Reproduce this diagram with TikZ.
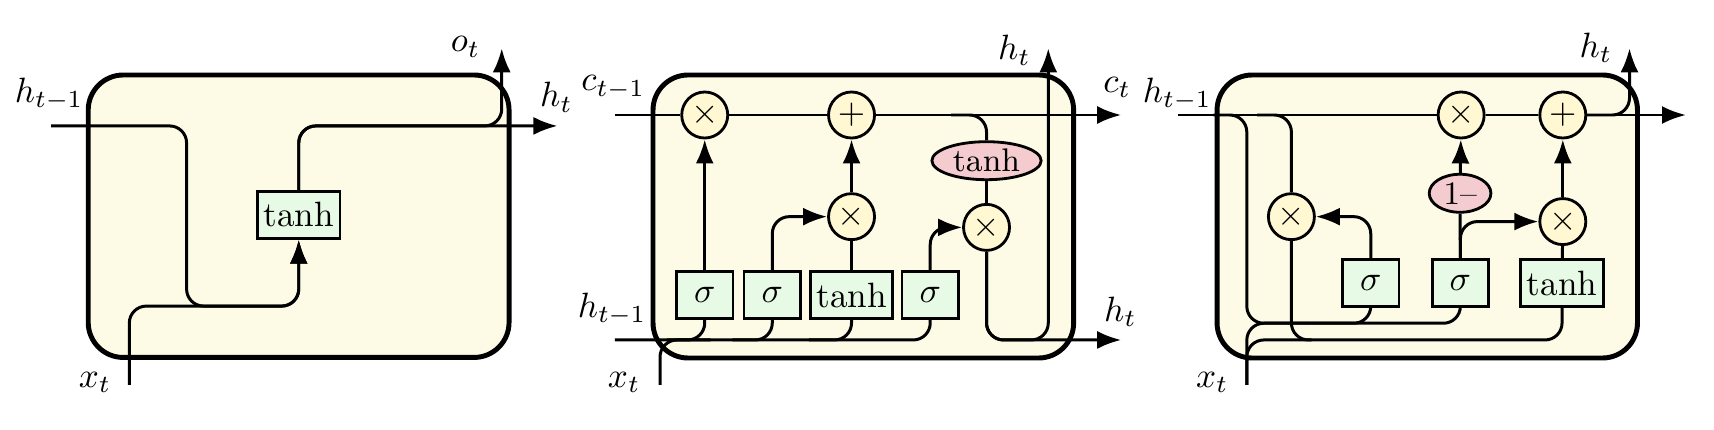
\documentclass[tikz,border=0pt]{standalone}
\usetikzlibrary{arrows.meta,shapes.geometric}
\definecolor{cellfill}{HTML}{FDFBE6}
\definecolor{opfill}{HTML}{FFF8D2}
\definecolor{gatefill}{HTML}{E6FAE6}
\definecolor{actfill}{HTML}{F4CCD0}
\begin{document}
\begin{tikzpicture}[x=0.010931cm,y=-0.010931cm,
  cell/.style={line width=1.4pt, rounded corners=3.5mm, fill=cellfill},
  wire/.style={line width=0.85pt, rounded corners=1.7mm},
  arr/.style={-{Latex[length=2.4mm,width=1.8mm]}},
  gate/.style={draw, line width=0.8pt, fill=gatefill, minimum width=5.65mm, minimum height=4.67mm, inner xsep=0.6mm, inner ysep=0pt},
  op/.style={circle, draw, line width=0.8pt, fill=opfill, minimum size=4.6mm, inner sep=0pt},
  act/.style={ellipse, draw, line width=0.8pt, fill=actfill, minimum height=3.8mm, inner xsep=0.5mm, inner ysep=0pt, font=\fontsize{9.3}{11}\selectfont},
  lbl/.style={inner sep=0pt}]
\useasboundingbox (0,0) rectangle (1568,393);

% ---------------- Panel 1 : simple RNN ----------------
\draw[cell] (80.7,68.6) rectangle (465.7,327);
\node[gate] (tanhA) at (273.3,196.6) {tanh};
\coordinate (hinA) at (46.7,115.2);
\coordinate (xinA) at (118.3,352);
\coordinate (houtA) at (510,115.2);
\coordinate (otA) at (459,44.2);
\draw[wire,arr] (hinA) -| (170.7,280) -| (tanhA);
\draw[wire,arr] (xinA) -- (118.3,280) -| (tanhA);
\draw[wire,arr] (tanhA) |- (houtA);
\draw[wire,arr] (tanhA) |- (459,115.2) -- (otA);
\node[lbl] (lhA) at (45,86) {$h_{t-1}$};
\node[lbl] (lxA) at (87,350) {$x_t$};
\node[lbl] (loA) at (426,43) {$o_t$};
\node[lbl] (lhoA) at (509,89) {$h_t$};

% ---------------- Panel 2 : LSTM ----------------
\draw[cell] (597.4,68.6) rectangle (982.2,327.5);
\node[op] (mB1) at (644.7,105.2) {$\times$};
\node[op] (aB) at (779,105.2) {$+$};
\node[op] (mB2) at (779,198.2) {$\times$};
\node[op] (mB3) at (902.5,208) {$\times$};
\node[act] (eB) at (902.5,147) {tanh};
\node[gate] (sB1) at (644.7,270) {$\sigma$};
\node[gate] (sB2) at (706.5,270) {$\sigma$};
\node[gate] (tB) at (779,270) {tanh};
\node[gate] (sB3) at (851,270) {$\sigma$};
\coordinate (cinB) at (562.4,105.2);
\coordinate (coutB) at (1025.7,105.2);
\coordinate (hinB) at (562.4,311);
\coordinate (xinB) at (603.8,352);
\coordinate (houtB) at (1025.7,311);
\coordinate (hupB) at (959,44.2);
\draw[wire,arr] (cinB) -- (mB1) -- (aB) -- (coutB);
\draw[wire] (eB) |- (870,105.2);
\draw[wire] (eB) -- (mB3);
\draw[wire,arr] (mB3) |- (houtB);
\draw[wire,arr] (mB3) |- (959,311) -- (hupB);
\draw[wire] (hinB) -| (sB3);
\draw[wire] (sB1) |- (610,311);
\draw[wire] (sB2) |- (670,311);
\draw[wire] (tB) |- (740,311);
\draw[wire] (xinB) |- (650,311);
\draw[wire,arr] (sB1) -- (mB1);
\draw[wire,arr] (sB2) |- (mB2);
\draw[wire] (tB) -- (mB2);
\draw[wire,arr] (mB2) -- (aB);
\draw[wire,arr] (sB3) |- (mB3);
\node[lbl] (lcB) at (561,80) {$c_{t-1}$};
\node[lbl] (lhB) at (560,283) {$h_{t-1}$};
\node[lbl] (lxB) at (571,350) {$x_t$};
\node[lbl] (lhtB) at (928,46) {$h_t$};
\node[lbl] (lctB) at (1022,80) {$c_t$};
\node[lbl] (lhoB) at (1025,285) {$h_t$};

% ---------------- Panel 3 : GRU ----------------
\draw[cell] (1113.4,68.6) rectangle (1498,327.5);
\node[op] (mC) at (1336.7,105.2) {$\times$};
\node[op] (aC) at (1429.7,105.2) {$+$};
\node[op] (mL) at (1181.4,198.2) {$\times$};
\node[op] (mR) at (1429.7,202.7) {$\times$};
\node[act] (oC) at (1335.7,176.8) {1--};
\node[gate] (sL) at (1254,259) {$\sigma$};
\node[gate] (sR) at (1336,259) {$\sigma$};
\node[gate] (tC) at (1429,259) {tanh};
\coordinate (hinC) at (1078,105.2);
\coordinate (houtC) at (1542.4,105.2);
\coordinate (hupC) at (1490.7,44.2);
\coordinate (xinC) at (1140.6,352);
\draw[wire,arr] (hinC) -- (mC) -- (aC) -- (houtC);
\draw[wire,arr] (aC) -| (hupC);
\draw[wire] (1110,105.2) -| (1140.6,295.7) -| (sR);
\draw[wire] (sL) |- (1200,295.7);
\draw[wire] (1150,105.2) -| (mL);
\draw[wire] (mL) |- (1300,311) -| (tC);
\draw[wire] (xinC) |- (1200,311);
\draw[wire] (xinC) |- (1200,295.7);
\draw[wire,arr] (sL) |- (mL);
\draw[wire] (sR) -- (oC);
\draw[wire,arr] (sR) |- (mR);
\draw[wire,arr] (oC) -- (mC);
\draw[wire] (tC) -- (mR);
\draw[wire,arr] (mR) -- (aC);
\node[lbl] (lhC) at (1077,86) {$h_{t-1}$};
\node[lbl] (lxC) at (1109,350) {$x_t$};
\node[lbl] (lhtC) at (1460,44) {$h_t$};
\end{tikzpicture}
\end{document}
